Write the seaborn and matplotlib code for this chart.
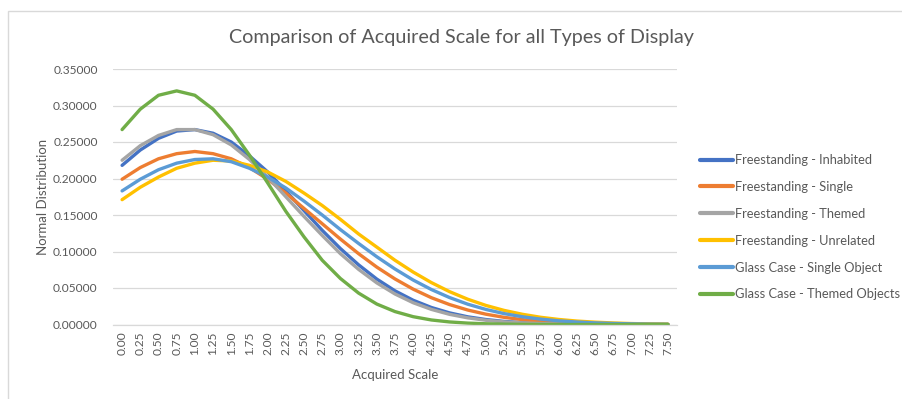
import numpy as np
import pandas as pd
import seaborn as sns
import matplotlib
matplotlib.use("Agg")
import matplotlib.pyplot as plt
from matplotlib.patches import Rectangle

scale = [0.00, 0.25, 0.50, 0.75, 1.00, 1.25, 1.50, 1.75, 2.00, 2.25, 2.50, 2.75,
         3.00, 3.25, 3.50, 3.75, 4.00, 4.25, 4.50, 4.75, 5.00, 5.25, 5.50, 5.75,
         6.00, 6.25, 6.50, 6.75, 7.00, 7.25, 7.50]

fs_inhabited = [0.218, 0.239, 0.255, 0.265, 0.267, 0.262, 0.250, 0.231, 0.209, 0.183,
                0.156, 0.129, 0.104, 0.0817, 0.0622, 0.0461, 0.0332, 0.0233, 0.0159,
                0.0105, 0.0068, 0.0042, 0.0026, 0.0015, 0.0009, 0.0005, 0.0003,
                0.0001, 0.0001, 0.0000, 0.0000]
fs_single = [0.199, 0.215, 0.227, 0.234, 0.237, 0.234, 0.227, 0.215, 0.199, 0.180,
             0.159, 0.138, 0.117, 0.097, 0.0786, 0.0624, 0.0484, 0.0367, 0.0273,
             0.0198, 0.0141, 0.0098, 0.0067, 0.0044, 0.0029, 0.0018, 0.0011,
             0.0007, 0.0004, 0.0002, 0.0001]
fs_themed = [0.225, 0.245, 0.259, 0.267, 0.267, 0.260, 0.246, 0.226, 0.202, 0.175,
             0.148, 0.122, 0.097, 0.0755, 0.0570, 0.0418, 0.0298, 0.0207, 0.0139,
             0.0091, 0.0058, 0.0036, 0.0022, 0.0013, 0.0007, 0.0004, 0.0002,
             0.0001, 0.0000, 0.0000, 0.0000]
fs_unrelated = [0.171, 0.188, 0.202, 0.214, 0.221, 0.225, 0.224, 0.218, 0.209, 0.196,
                0.180, 0.163, 0.144, 0.124, 0.106, 0.088, 0.0718, 0.0574, 0.0450,
                0.0346, 0.0261, 0.0193, 0.0140, 0.0099, 0.0069, 0.0047, 0.0032,
                0.0021, 0.0013, 0.0008, 0.0005]
gc_single = [0.183, 0.199, 0.212, 0.221, 0.226, 0.227, 0.223, 0.214, 0.202, 0.187,
             0.169, 0.150, 0.130, 0.111, 0.0928, 0.0760, 0.0609, 0.0479, 0.0369,
             0.0278, 0.0206, 0.0149, 0.0106, 0.0074, 0.0050, 0.0034, 0.0022,
             0.0014, 0.0009, 0.0005, 0.0003]
gc_themed = [0.267, 0.295, 0.314, 0.320, 0.314, 0.295, 0.267, 0.232, 0.194, 0.155,
             0.120, 0.088, 0.063, 0.043, 0.028, 0.0177, 0.0107, 0.0062, 0.0035,
             0.0019, 0.0010, 0.0005, 0.0002, 0.0001, 0.0000, 0.0000, 0.0000,
             0.0000, 0.0000, 0.0000, 0.0000]

series_names = ["Freestanding - Inhabited", "Freestanding - Single",
                "Freestanding - Themed", "Freestanding - Unrelated",
                "Glass Case - Single Object", "Glass Case - Themed Objects"]
series_values = [fs_inhabited, fs_single, fs_themed, fs_unrelated, gc_single, gc_themed]
colors = ["#4472C4", "#ED7D31", "#A5A5A5", "#FFC000", "#5B9BD5", "#70AD47"]

title = "Comparison of Acquired Scale for all Types of Display"
xlabel = "Acquired Scale"
ylabel = "Normal Distribution"
yticks = [0.0, 0.05, 0.10, 0.15, 0.20, 0.25, 0.30, 0.35]

rows = []
for name, vals in zip(series_names, series_values):
    for x, v in zip(scale, vals):
        rows.append({"scale": x, "value": v, "series": name})
df = pd.DataFrame(rows)

sns.set_theme(style="white")
plt.rcParams["font.family"] = ["Lato", "DejaVu Sans"]
text_color = "#595959"

fig = plt.figure(figsize=(9.03, 3.99), dpi=100)
ax = fig.add_axes([113 / 903, 1 - 324.5 / 399, (677 - 113) / 903, (324.5 - 69) / 399])

sns.lineplot(data=df, x="scale", y="value", hue="series", hue_order=series_names,
             palette=colors, linewidth=2.4, ax=ax, legend=True, sort=False)

ax.set_xlim(-0.125, 7.625)
ax.set_ylim(0, 0.35)
ax.set_yticks(yticks)
ax.set_yticklabels([f"{t:.5f}" for t in yticks], fontsize=8.6, color=text_color)
ax.set_xticks(scale)
ax.set_xticklabels([f"{s:.2f}" for s in scale], rotation=90, fontsize=8.6, color=text_color)
ax.tick_params(axis="both", length=0, pad=5)
ax.tick_params(axis="y", pad=11)
ax.grid(axis="y", color="#D9D9D9", linewidth=0.9)
ax.grid(axis="x", visible=False)
for side in ["top", "right", "left"]:
    ax.spines[side].set_visible(False)
ax.spines["bottom"].set_color("#D9D9D9")
ax.spines["bottom"].set_linewidth(0.9)
ax.set_axisbelow(True)

ax.set_xlabel(xlabel, fontsize=9.5, color=text_color, labelpad=10)
ax.set_ylabel(ylabel, fontsize=9.5, color=text_color, labelpad=3)

fig.text(461 / 903, 1 - 38 / 399, title, ha="center", va="center",
         fontsize=14.2, color=text_color)

handles, labels = ax.get_legend_handles_labels()
ax.legend_.remove()
leg = fig.legend(handles, labels, loc="upper left",
                 bbox_to_anchor=(695 / 903, 1 - 149 / 399), frameon=False,
                 fontsize=9.3, handlelength=2.55, handletextpad=0.15,
                 labelspacing=1.15, borderaxespad=0)
for t in leg.get_texts():
    t.set_color(text_color)
for l in leg.get_lines():
    l.set_linewidth(3)

fig.patches.append(Rectangle((8 / 903, -0.1), 1.2, 1 - 10.5 / 399 + 0.1,
                             transform=fig.transFigure, fill=False,
                             edgecolor="#D9D9D9", linewidth=1))

fig.savefig("out.png", dpi=100)
